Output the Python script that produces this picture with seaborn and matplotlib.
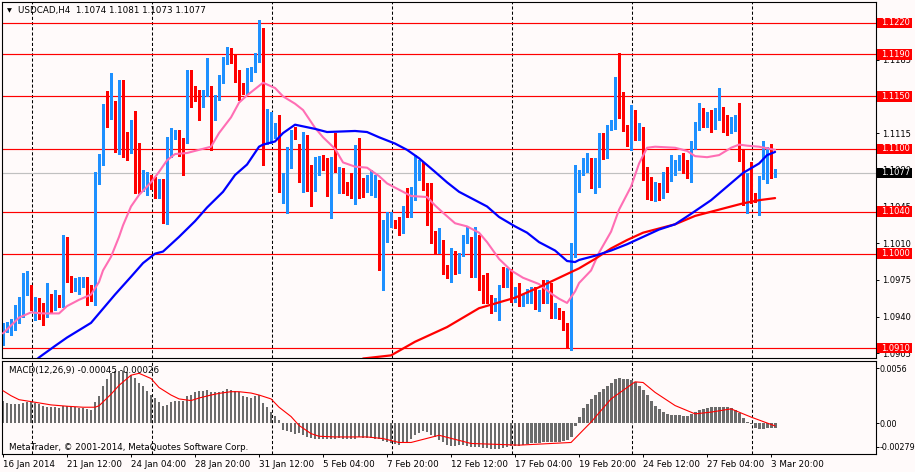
import numpy as np
import pandas as pd
import matplotlib
matplotlib.use("Agg")
import matplotlib.pyplot as plt
import matplotlib.transforms as mtransforms
from matplotlib.patches import Rectangle
import seaborn as sns

# ---------------- data ----------------
symbol_title = "USDCAD,H4  1.1074 1.1081 1.1073 1.1077"
macd_title = "MACD(12,26,9) -0.00045 -0.00026"
copyright_text = "MetaTrader, \u00a9 2001-2014, MetaQuotes Software Corp."
first_bar_time = "2014-01-16 20:00"

opens = [1.0915,1.0928,1.0929,1.0930,1.0943,1.0954,1.0963,1.0962,1.0949,1.0955,
         1.0950,1.0944,1.0959,1.0949,1.0960,1.0950,1.1008,1.0978,1.0965,1.0964,
         1.0970,1.0977,1.0962,1.0958,1.1068,1.1088,1.1141,1.1130,1.1144,1.1097,
         1.1160,1.1106,1.1098,1.1121,1.1068,1.1063,1.1068,1.1070,1.1068,1.1056,
         1.1060,1.1034,1.1094,1.1111,1.1115,1.1107,1.1108,1.1153,1.1152,1.1149,
         1.1146,1.1152,1.1159,1.1130,1.1149,1.1166,1.1183,1.1191,1.1185,1.1168,
         1.1161,1.1153,1.1168,1.1175,1.1185,1.1214,1.1108,1.1110,1.1114,1.1118,
         1.1062,1.1064,1.1092,1.1118,1.1102,1.1067,1.1111,1.1078,1.1064,1.1080,
         1.1093,1.1086,1.1064,1.1090,1.1080,1.1081,1.1066,1.1068,1.1062,1.1102,
         1.1068,1.1067,1.1063,1.1064,1.1065,1.1001,1.1029,1.1037,1.1029,1.1029,
         1.1022,1.1045,1.1041,1.1053,1.1073,1.1080,1.1066,1.1049,1.1015,1.1005,
         1.1011,1.0986,1.0982,1.1000,1.0984,1.1000,1.1012,1.1015,1.0980,1.1016,
         1.0975,1.0973,1.0960,1.0947,1.0948,1.0972,1.0970,1.0984,1.0956,1.0967,
         1.0953,1.0954,1.0956,1.0962,1.0948,1.0959,1.0954,1.0966,1.0943,1.0944,
         1.0944,1.0931,1.0915,1.1001,1.1066,1.1077,1.1080,1.1087,1.1071,1.1087,
         1.1110,1.1096,1.1120,1.1121,1.1158,1.1145,1.1120,1.1103,1.1135,1.1110,
         1.1120,1.1080,1.1072,1.1059,1.1066,1.1061,1.1077,1.1071,1.1077,1.1082,
         1.1089,1.1082,1.1078,1.1102,1.1120,1.1128,1.1124,1.1127,1.1121,1.1129,
         1.1134,1.1119,1.1117,1.1119,1.1126,1.1096,1.1048,1.1078,1.1056,1.1053,
         1.1073,1.1087,1.1096,1.1074]
highs = [1.0934,1.0935,1.0938,1.0951,1.0959,1.0982,1.0983,1.0970,1.0959,1.0958,
         1.0953,1.0972,1.0962,1.0965,1.0961,1.1018,1.1016,1.0979,1.0977,1.0978,
         1.0978,1.0978,1.0970,1.1078,1.1095,1.1143,1.1155,1.1172,1.1146,1.1166,
         1.1166,1.1116,1.1127,1.1136,1.1106,1.1080,1.1078,1.1075,1.1073,1.1071,
         1.1071,1.1111,1.1120,1.1118,1.1118,1.1110,1.1175,1.1175,1.1160,1.1156,
         1.1156,1.1187,1.1160,1.1151,1.1170,1.1188,1.1197,1.1196,1.1190,1.1175,
         1.1163,1.1177,1.1178,1.1191,1.1223,1.1215,1.1138,1.1135,1.1125,1.1132,
         1.1077,1.1102,1.1118,1.1121,1.1105,1.1116,1.1113,1.1085,1.1092,1.1093,
         1.1094,1.1091,1.1092,1.1115,1.1083,1.1082,1.1068,1.1077,1.1104,1.1110,
         1.1072,1.1075,1.1080,1.1075,1.1070,1.1032,1.1040,1.1040,1.1032,1.1035,
         1.1045,1.1063,1.1064,1.1094,1.1089,1.1087,1.1067,1.1067,1.1022,1.1024,
         1.1013,1.0989,1.1005,1.1003,1.1001,1.1018,1.1025,1.1016,1.1025,1.1018,
         1.0980,1.0982,1.0961,1.0958,1.0970,1.0987,1.0986,1.0985,1.0968,1.0972,
         1.0962,1.0966,1.0968,1.0968,1.0965,1.0975,1.0975,1.0972,1.0953,1.0948,
         1.0945,1.0934,1.1010,1.1085,1.1080,1.1091,1.1096,1.1091,1.1091,1.1115,
         1.1115,1.1123,1.1127,1.1168,1.1191,1.1154,1.1123,1.1142,1.1137,1.1125,
         1.1121,1.1083,1.1073,1.1068,1.1067,1.1078,1.1083,1.1094,1.1089,1.1094,
         1.1096,1.1089,1.1107,1.1126,1.1144,1.1139,1.1135,1.1137,1.1139,1.1158,
         1.1140,1.1132,1.1130,1.1132,1.1144,1.1099,1.1077,1.1087,1.1058,1.1074,
         1.1107,1.1102,1.1105,1.1081]
lows = [1.0913,1.0925,1.0922,1.0927,1.0934,1.0940,1.0961,1.0946,1.0937,1.0938,
        1.0932,1.0940,1.0943,1.0946,1.0949,1.0949,1.0973,1.0963,1.0964,1.0962,
        1.0968,1.0951,1.0955,1.0951,1.1066,1.1085,1.1121,1.1128,1.1097,1.1095,
        1.1092,1.1089,1.1096,1.1058,1.1058,1.1060,1.1056,1.1062,1.1053,1.1053,
        1.1029,1.1028,1.1092,1.1109,1.1093,1.1075,1.1106,1.1140,1.1146,1.1127,
        1.1140,1.1150,1.1099,1.1127,1.1147,1.1163,1.1181,1.1182,1.1164,1.1147,
        1.1152,1.1152,1.1165,1.1173,1.1183,1.1085,1.1105,1.1106,1.1110,1.1059,
        1.1048,1.1039,1.1082,1.1109,1.1068,1.1059,1.1060,1.1045,1.1060,1.1075,
        1.1080,1.1055,1.1034,1.1078,1.1058,1.1058,1.1056,1.1053,1.1047,1.1053,
        1.1054,1.1059,1.1056,1.1054,1.0984,1.0965,1.1011,1.1025,1.1024,1.1018,
        1.1020,1.1035,1.1035,1.1051,1.1070,1.1061,1.1027,1.1010,1.1001,1.1001,
        1.0981,1.0977,1.0973,1.0981,1.0982,1.0998,1.1010,1.0978,1.0978,1.0965,
        1.0953,1.0953,1.0943,1.0945,1.0937,1.0968,1.0968,1.0954,1.0954,1.0950,
        1.0950,1.0953,1.0953,1.0947,1.0945,1.0953,1.0953,1.0939,1.0939,1.0938,
        1.0927,1.0911,1.0908,1.0997,1.1059,1.1075,1.1078,1.1063,1.1058,1.1064,
        1.1090,1.1091,1.1118,1.1119,1.1129,1.1117,1.1103,1.1099,1.1108,1.1108,
        1.1070,1.1052,1.1051,1.1050,1.1051,1.1053,1.1059,1.1069,1.1075,1.1080,
        1.1077,1.1072,1.1068,1.1100,1.1118,1.1121,1.1121,1.1116,1.1119,1.1127,
        1.1116,1.1113,1.1115,1.1117,1.1088,1.1046,1.1039,1.1048,1.1049,1.1037,
        1.1071,1.1067,1.1072,1.1073]
closes = [1.0932,1.0930,1.0931,1.0946,1.0954,1.0963,1.0973,1.0949,1.0956,1.0949,
          1.0940,1.0958,1.0945,1.0958,1.0951,1.1006,1.0976,1.0964,1.0967,1.0971,
          1.0976,1.0961,1.0957,1.1068,1.1090,1.1141,1.1130,1.1152,1.1099,1.1158,
          1.1096,1.1097,1.1119,1.1067,1.1063,1.1068,1.1070,1.1066,1.1054,1.1061,
          1.1034,1.1093,1.1113,1.1115,1.1095,1.1097,1.1152,1.1149,1.1148,1.1146,
          1.1152,1.1158,1.1129,1.1149,1.1168,1.1182,1.1191,1.1184,1.1168,1.1161,
          1.1153,1.1175,1.1175,1.1185,1.1214,1.1108,1.1135,1.1115,1.1118,1.1061,
          1.1064,1.1092,1.1116,1.1111,1.1072,1.1113,1.1064,1.1064,1.1084,1.1092,
          1.1085,1.1064,1.1090,1.1080,1.1081,1.1065,1.1061,1.1061,1.1103,1.1059,
          1.1062,1.1072,1.1073,1.1066,1.1001,1.1029,1.1037,1.1039,1.1025,1.1024,
          1.1044,1.1041,1.1054,1.1073,1.1078,1.1064,1.1052,1.1011,1.1006,1.1015,
          1.0986,1.0981,1.1000,1.0982,1.1000,1.1015,1.1014,1.0979,1.1015,1.0968,
          1.0969,1.0956,1.0945,1.0953,1.0969,1.0969,1.0982,1.0956,1.0965,1.0951,
          1.0956,1.0961,1.0963,1.0949,1.0957,1.0954,1.0966,1.0942,1.0946,1.0943,
          1.0929,1.0912,1.1001,1.1067,1.1077,1.1085,1.1091,1.1070,1.1089,1.1113,
          1.1094,1.1120,1.1122,1.1159,1.1144,1.1120,1.1105,1.1134,1.1111,1.1119,
          1.1078,1.1070,1.1059,1.1066,1.1059,1.1075,1.1071,1.1082,1.1082,1.1091,
          1.1082,1.1078,1.1106,1.1121,1.1126,1.1122,1.1125,1.1122,1.1129,1.1133,
          1.1117,1.1115,1.1120,1.1125,1.1091,1.1048,1.1070,1.1049,1.1054,1.1072,
          1.1087,1.1096,1.1074,1.1077]

# moving averages (sampled bar index -> value)
pink_idx = [0,4,7,10,14,16,19,22,24,25,27,29,30,32,34,37,39,41,43,46,49,52,54,57,59,61,64,65,68,70,
            73,75,78,80,83,85,88,91,94,96,99,102,106,108,110,113,116,119,121,124,127,130,134,137,139,
            141,143,144,147,149,152,154,157,159,161,163,168,171,173,176,179,182,184,186,189,193]
pink_val = [1.0924,1.0939,1.0944,1.0943,1.0943,1.0950,1.0956,1.0961,1.0973,1.0984,1.0997,1.1016,1.1027,
            1.1045,1.1056,1.1068,1.1078,1.1089,1.1095,1.1096,1.1099,1.1102,1.1115,1.1130,1.1144,1.1151,
            1.1160,1.1163,1.1158,1.1150,1.1143,1.1137,1.1120,1.1111,1.1100,1.1087,1.1083,1.1082,1.1074,
            1.1067,1.1061,1.1055,1.1054,1.1046,1.1039,1.1029,1.1026,1.1020,1.1011,1.0995,1.0984,1.0977,
            1.0971,1.0962,1.0957,1.0953,1.0964,1.0972,1.0984,1.1001,1.1021,1.1042,1.1064,1.1086,1.1101,
            1.1102,1.1101,1.1098,1.1093,1.1092,1.1094,1.1101,1.1104,1.1103,1.1102,1.1099]
blue_idx = [7,9,13,16,22,24,28,32,35,38,40,44,48,51,55,58,61,64,65,68,70,73,78,81,88,91,94,98,101,104,
            108,111,114,118,121,124,128,131,134,138,141,143,144,148,152,156,160,164,168,172,177,181,185,
            189,191,193]
blue_val = [1.0894,1.0901,1.0912,1.0920,1.0934,1.0943,1.0961,1.0978,1.0991,1.1000,1.1002,1.1016,1.1031,
            1.1044,1.1059,1.1075,1.1085,1.1102,1.1104,1.1107,1.1115,1.1123,1.1119,1.1116,1.1117,1.1116,
            1.1111,1.1105,1.1099,1.1091,1.1078,1.1068,1.1059,1.1051,1.1045,1.1035,1.1026,1.1020,1.1011,
            1.1003,1.0993,1.0992,1.0994,1.0998,1.1003,1.1009,1.1016,1.1023,1.1028,1.1038,1.1051,1.1064,
            1.1077,1.1086,1.1094,1.1097]
red_idx = [90,97,103,111,119,128,134,139,144,148,152,156,160,164,168,173,177,181,185,189,193]
red_val = [1.0900,1.0903,1.0916,1.0930,1.0948,1.0958,1.0968,1.0977,1.0986,1.0995,1.1005,1.1013,1.1020,
           1.1024,1.1028,1.1036,1.1040,1.1044,1.1048,1.1051,1.1053]

# MACD main (histogram) per bar and signal line samples
macd_main = [0.00203,0.00178,0.00173,0.00173,0.00173,0.00178,0.00188,0.00188,0.00182,0.00173,
             0.00152,0.00149,0.00143,0.00143,0.00134,0.00158,0.00152,0.00158,0.00143,0.00137,
             0.00137,0.00128,0.00114,0.00188,0.00247,0.00330,0.00396,0.00455,0.00470,0.00470,
             0.00470,0.00462,0.00437,0.00406,0.00366,0.00330,0.00292,0.00253,0.00223,0.00188,
             0.00158,0.00164,0.00188,0.00203,0.00203,0.00203,0.00242,0.00257,0.00277,0.00292,
             0.00292,0.00295,0.00277,0.00277,0.00283,0.00292,0.00307,0.00301,0.00292,0.00277,
             0.00247,0.00232,0.00226,0.00242,0.00253,0.00178,0.00143,0.00099,0.00063,0.00030,
             -0.00060,-0.00074,-0.00083,-0.00095,-0.00092,-0.00110,-0.00122,-0.00131,-0.00140,-0.00146,
             -0.00143,-0.00140,-0.00143,-0.00140,-0.00137,-0.00143,-0.00140,-0.00143,-0.00146,-0.00125,
             -0.00131,-0.00134,-0.00137,-0.00140,-0.00146,-0.00164,-0.00173,-0.00182,-0.00191,-0.00194,
             -0.00184,-0.00170,-0.00140,-0.00110,-0.00086,-0.00074,-0.00080,-0.00104,-0.00125,-0.00155,
             -0.00175,-0.00199,-0.00205,-0.00205,-0.00199,-0.00199,-0.00205,-0.00214,-0.00214,-0.00214,
             -0.00223,-0.00229,-0.00235,-0.00238,-0.00235,-0.00223,-0.00214,-0.00205,-0.00205,-0.00205,
             -0.00199,-0.00193,-0.00184,-0.00184,-0.00184,-0.00175,-0.00175,-0.00175,-0.00175,-0.00170,
             -0.00164,-0.00155,-0.00125,-0.00027,0.00059,0.00134,0.00173,0.00218,0.00253,0.00283,
             0.00307,0.00337,0.00366,0.00396,0.00408,0.00402,0.00396,0.00390,0.00372,0.00337,
             0.00298,0.00253,0.00203,0.00158,0.00128,0.00104,0.00083,0.00074,0.00074,0.00074,
             0.00068,0.00068,0.00083,0.00099,0.00114,0.00128,0.00134,0.00143,0.00149,0.00149,
             0.00149,0.00143,0.00134,0.00122,0.00092,0.00045,0.00009,-0.00006,-0.00045,-0.00057,
             -0.00051,-0.00045,-0.00045,-0.00045]
sig_idx = [0,2,4,8,12,16,20,23,24,27,29,32,34,37,39,42,44,47,49,52,54,57,59,62,64,67,69,72,74,77,79,
           83,91,95,99,102,109,117,129,142,147,152,158,160,163,168,173,177,182,187,193]
sig_val = [0.00292,0.00247,0.00211,0.00188,0.00164,0.00152,0.00143,0.00143,0.00156,0.00260,0.00340,
           0.00432,0.00449,0.00402,0.00321,0.00253,0.00218,0.00203,0.00226,0.00253,0.00268,0.00283,
           0.00283,0.00271,0.00253,0.00218,0.00143,0.00059,-0.00021,-0.00095,-0.00119,-0.00125,
           -0.00125,-0.00140,-0.00175,-0.00175,-0.00110,-0.00184,-0.00199,-0.00175,0.00009,0.00218,
           0.00372,0.00366,0.00277,0.00158,0.00083,0.00099,0.00128,0.00054,-0.00026]

levels = [1.1220, 1.1190, 1.1150, 1.1100, 1.1040, 1.1000, 1.0910]
last_price = 1.1077
price_ticks = [1.0905, 1.0940, 1.0975, 1.1010, 1.1045, 1.1080, 1.1115, 1.1150, 1.1185, 1.1220]
macd_range = (-0.00279, 0.0056)

# ---------------- style ----------------
sns.set_style("white")
plt.rcParams['font.family'] = ['DejaVu Sans']
BG = '#fffafa'
FS = 6.3
FS_AX = 6.0
UP, DOWN = '#1e90ff', '#ff0000'

W, H = 915, 472
fig = plt.figure(figsize=(W / 100, H / 100), dpi=100, facecolor=BG)

def fx(p):
    return p / W

def fy(p):
    return 1 - p / H

ax = fig.add_axes([fx(2), fy(358), (875.5 - 2) / W, (358 - 2) / H], facecolor=BG)
ax2 = fig.add_axes([fx(2), fy(454), (875.5 - 2) / W, (454 - 361) / H], facecolor=BG)

n = len(closes)
x = np.arange(n)
o = np.array(opens); h = np.array(highs); l = np.array(lows); c = np.array(closes)

# bar times (H4, skipping weekends)
times = []
t = pd.Timestamp(first_bar_time)
while len(times) < n:
    if t.weekday() < 5:
        times.append(t)
    t += pd.Timedelta(hours=4)
week_starts = [i for i, tt in enumerate(times) if tt.weekday() == 0 and tt.hour == 0]

xlim = (-0.25, 218.1)
ylim = (1.09005, 1.12400)

# grid and levels
for a in (ax, ax2):
    for g in week_starts:
        a.axvline(g + 0.15, color='black', lw=0.75, ls=(0, (3, 2)), zorder=1)
for lev in levels:
    ax.axhline(lev, color='#ff0000', lw=0.85, zorder=1.5)
ax.axhline(last_price, color='#c0c0c0', lw=0.85, zorder=1.4)

# candles
up = c >= o
cols = np.where(up, UP, DOWN)
ax.vlines(x, l, h, colors=cols, linewidth=0.8, zorder=2, antialiased=False)
body = np.maximum(np.abs(c - o), 0.00008)
ax.bar(x, body, bottom=np.minimum(o, c), width=0.7, color=cols, linewidth=0,
       zorder=2.1, antialiased=False)

# moving averages
sns.lineplot(x=pink_idx, y=pink_val, ax=ax, color='#ff6eb4', linewidth=1.5, zorder=3)
sns.lineplot(x=blue_idx, y=blue_val, ax=ax, color='#0000ff', linewidth=1.6, zorder=3.2)
sns.lineplot(x=red_idx, y=red_val, ax=ax, color='#ff0000', linewidth=1.6, zorder=3.1)

ax.set_xlim(*xlim)
ax.set_ylim(*ylim)
ax.set_xticks([])
ax.yaxis.tick_right()
ax.set_yticks(price_ticks)
ax.set_yticklabels([f"{v:.4f}" for v in price_ticks])
ax.tick_params(axis='y', right=True, length=2.2, width=0.7, pad=2.6, labelsize=FS_AX,
               colors='black', direction='out')
ax.set_xlabel(''); ax.set_ylabel('')

# MACD panel
ax2.bar(x, macd_main, width=0.72, color='#6b6b6b', linewidth=0, zorder=2, antialiased=False)
sns.lineplot(x=sig_idx, y=sig_val, ax=ax2, color='#ff0000', linewidth=0.8, zorder=3)
ax2.set_xlim(*xlim)
ax2.set_ylim(*macd_range)
span = macd_range[1] - macd_range[0]
top_pos = macd_range[1] - span * 7 / 93
bot_pos = macd_range[0] + span * 7 / 93
ax2.yaxis.tick_right()
ax2.set_yticks([bot_pos, 0.0, top_pos])
ax2.set_yticklabels(['-0.00279', '0.00', '0.0056'])
ax2.tick_params(axis='y', right=True, length=2.0, width=0.7, pad=1.2, labelsize=5.8,
                colors='black', direction='out')
tick_pos = list(range(0, n, 16))
tick_lab = []
for i in tick_pos:
    tt = times[i]
    if i == 0:
        tick_lab.append(f"{tt.day} {tt:%b} {tt.year}")
    else:
        tick_lab.append(f"{tt.day} {tt:%b} {tt:%H:%M}")
ax2.set_xticks(tick_pos)
ax2.set_xticklabels(tick_lab)
for lab in ax2.get_xticklabels():
    lab.set_ha('left')
ax2.tick_params(axis='x', bottom=True, length=2.2, width=0.7, pad=1.8, labelsize=FS,
                colors='black', direction='out')
ax2.set_xlabel(''); ax2.set_ylabel('')

for a in (ax, ax2):
    for s in a.spines.values():
        s.set_color('black')
        s.set_linewidth(0.8)

ax2.text(7 / 873.5, 1 - 9 / 93, macd_title, transform=ax2.transAxes, fontsize=FS,
         va='center', ha='left', color='black', zorder=10)
ax2.text(7 / 873.5, 1 - 86 / 93, copyright_text, transform=ax2.transAxes, fontsize=FS,
         va='center', ha='left', color='black', zorder=10)

# title
fig.text(fx(6.5), fy(10.5), '\u25bc', fontsize=4.6, va='center', ha='left', color='black')
fig.text(fx(18), fy(10.5), symbol_title, fontsize=FS, va='center', ha='left', color='black')

# price boxes on the right axis
trans = mtransforms.blended_transform_factory(fig.transFigure, ax.transData)
box_h = 10.5 * (ylim[1] - ylim[0]) / 356.0
for lev, fc in [(v, '#ff0000') for v in levels] + [(last_price, '#000000')]:
    r = Rectangle((fx(876.5), lev - box_h / 2), 35.5 / W, box_h, transform=trans,
                  facecolor=fc, edgecolor='none', zorder=5)
    fig.add_artist(r)
    fig.text(fx(880.8), lev, f"{lev:.4f}", transform=trans, fontsize=FS_AX, color='white',
             va='center', ha='left', zorder=6)

fig.savefig('out.png', dpi=100, facecolor=BG)
